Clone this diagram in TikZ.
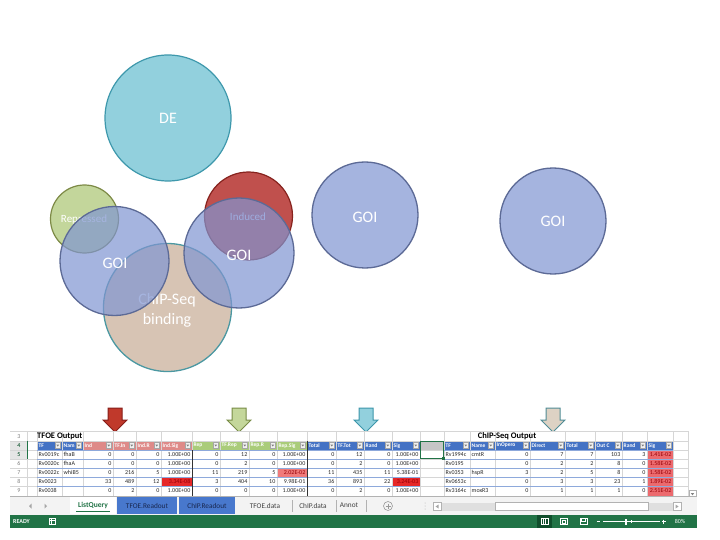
\documentclass[tikz,border=0pt]{standalone}
\usepackage{fontspec}
\setmainfont{Carlito}
\definecolor{deF}{RGB}{146,208,221}
\definecolor{deD}{RGB}{62,152,172}
\definecolor{repF}{RGB}{195,214,155}
\definecolor{repD}{RGB}{125,138,70}
\definecolor{indF}{RGB}{192,80,77}
\definecolor{indD}{RGB}{135,35,30}
\definecolor{chipF}{RGB}{215,196,180}
\definecolor{chipD}{RGB}{75,152,162}
\definecolor{goiF}{RGB}{128,149,210}
\definecolor{goiD}{RGB}{92,106,150}
\definecolor{hBlue}{RGB}{68,114,196}
\definecolor{hRed}{RGB}{222,138,136}
\definecolor{hGreen}{RGB}{170,204,122}
\definecolor{gridC}{RGB}{214,214,214}
\definecolor{rowLine}{RGB}{142,169,219}
\definecolor{datC}{RGB}{40,40,40}
\definecolor{sigT}{RGB}{150,0,6}
\definecolor{sigR}{RGB}{230,40,40}
\definecolor{sigL}{RGB}{240,122,122}
\definecolor{sigM}{RGB}{236,106,110}
\definecolor{xlG}{RGB}{33,115,70}
\definecolor{xlDG}{RGB}{16,78,44}
\definecolor{tabBg}{RGB}{243,243,243}
\definecolor{tabBlue}{RGB}{72,120,205}
\definecolor{tabTxt}{RGB}{25,40,80}
\definecolor{arRF}{RGB}{192,57,43}
\definecolor{arRD}{RGB}{135,30,25}
\definecolor{arGF}{RGB}{196,215,155}
\definecolor{arGD}{RGB}{120,140,70}
\definecolor{arCF}{RGB}{146,208,221}
\definecolor{arCD}{RGB}{60,150,170}
\definecolor{arTF}{RGB}{221,210,196}
\definecolor{arTD}{RGB}{80,140,150}
\newcommand\redtxt[1]{\textcolor{sigT}{#1}}
\tikzset{
  ctext/.style={text=white, font=\fontsize{16}{20}\selectfont, inner sep=0pt, align=center},
  stext/.style={text=white, font=\fontsize{11}{12}\selectfont, inner sep=0pt},
  goi/.style={fill=goiF, fill opacity=0.7, draw=goiD, line width=1.3pt},
  dat/.style={font=\fontsize{6}{7}\selectfont, text=datC, inner sep=0pt},
  hdr/.style={font=\fontsize{5.5}{6}\selectfont\bfseries, text=white, inner sep=0pt, anchor=west},
  rownum/.style={font=\fontsize{6}{7}\selectfont, text=gray, inner sep=0pt},
  ddbox/.style={fill=white!94!black, draw=gray!70, line width=0.3pt},
  tabtxt/.style={font=\fontsize{7.3}{8}\selectfont, inner sep=0pt},
  blockarrow/.style={line width=1pt},
  stat/.style={text=white, font=\fontsize{6}{7}\selectfont, inner sep=0pt}
}
\begin{document}
\begin{tikzpicture}[x=1pt,y=-1pt]
\useasboundingbox (0,0) rectangle (720,540);
\fill[white] (0,0) rectangle (720,540);

% ---------- circles ----------
\draw[fill=deF, draw=deD, line width=1.2pt] (168,118) circle[radius=63pt];
\node[ctext] (deT) at (168,118) {DE};
\draw[fill=repF, draw=repD, line width=1.2pt] (84.5,219) circle[radius=34pt];
\node[stext] (repT) at (84,220) {Repressed};
\draw[fill=indF, draw=indD, line width=1.2pt] (248.5,216) circle[radius=44pt];
\node[stext, text=white!90!blue] (indT) at (248,217) {Induced};
\draw[fill=chipF, draw=chipD, line width=1.3pt] (167.5,307.5) circle[radius=64pt];
\node[ctext] (chipT) at (167,310) {ChIP-Seq\\binding};
\draw[goi] (114.5,261) circle[radius=54.5pt];
\draw[goi] (239,253) circle[radius=55pt];
\draw[goi] (365,215) circle[radius=53pt];
\draw[goi] (553,221) circle[radius=53pt];
\node[ctext] (goi1) at (115,263) {GOI};
\node[ctext] (goi2) at (239,255) {GOI};
\node[ctext] (goi3) at (365,217) {GOI};
\node[ctext] (goi4) at (553,221) {GOI};

% ---------- block arrows ----------
\foreach \cx/\f/\d/\nm in {115/arRF/arRD/aR, 239/arGF/arGD/aG, 366/arCF/arCD/aC, 553/arTF/arTD/aT}
  \draw[blockarrow, fill=\f, draw=\d] (\cx-7,408) -- (\cx+7,408) -- (\cx+7,420) -- (\cx+12,420)
    -- (\cx,432) -- (\cx-12,420) -- (\cx-7,420) -- cycle;

% ---------- sheet grid ----------
\fill[white] (10,431) rectangle (697,496);
\fill[gray!20] (10,441) rectangle (27,459);
\foreach \x in {27,37,62,83,113,136,161,192,220,249,277,307,336,364,392,420,444,470,495,530,565,595,622,647,673,688}
  \draw[gridC, line width=0.4pt] (\x,431) -- (\x,496);
\foreach \y in {431,441,450,459,468,477,486}
  \draw[gridC, line width=0.4pt] (10,\y) -- (688,\y);
\draw[xlG, line width=1pt] (27,441) -- (27,459);

% row numbers
\foreach \rw in {3,...,9}
  \node[rownum] (rn\rw) at (19,{436.5+(\rw-3)*9}) {\rw};
\node[rownum, text=xlG] (rn4g) at (19,445.5) {4};
\node[rownum, text=xlG] (rn5g) at (19,454.5) {5};

% row 3 titles
\node[anchor=west, inner sep=0pt, font=\fontsize{8.5}{9}\selectfont\bfseries] (tfoeT) at (37,436.5) {TFOE Output};
\node[inner sep=0pt, font=\fontsize{8.5}{9}\selectfont\bfseries] (chipOT) at (507,436.5) {ChIP-Seq Output};

% coloured cells
\fill[sigR] (161.5,477.5) rectangle (191.5,485.5);
\fill[sigL] (277.5,468.5) rectangle (306.5,476.5);
\fill[sigR] (392.5,477.5) rectangle (419.5,485.5);
\fill[sigM] (647.5,450.5) rectangle (672.5,495.5);

% header row
\foreach \xl/\xr/\t/\c in {37/62/TF/hBlue, 62/83/Nam/hBlue, 83/113/Ind/hRed, 113/136/TF.In/hRed,
   136/161/Ind.R/hRed, 161/192/Ind.Sig/hRed, 192/220/Rep/hGreen, 220/249/TF.Rep/hGreen,
   249/277/Rep.R/hGreen, 277/307/Rep.Sig/hGreen, 307/336/Total/hBlue, 336/364/TF.Tot/hBlue,
   364/392/Rand/hBlue, 392/420/Sig/hBlue, 444/470/TF/hBlue, 470/495/Name/hBlue,
   495/530/InOpero/hBlue, 530/565/Direct/hBlue, 565/595/Total/hBlue, 595/622/Out C/hBlue,
   622/647/Rand/hBlue, 647/673/Sig/hBlue}
{
  \fill[\c] (\xl+0.5,441.5) rectangle (\xr-0.5,449.5);
  \node[hdr] (h\xl) at (\xl+1.5,445.6) {\t};
  \draw[ddbox] (\xr-7,442.5) rectangle (\xr-1.5,448.5);
  \fill[gray] (\xr-5.6,444.7) -- (\xr-2.9,444.7) -- (\xr-4.25,446.5) -- cycle;
}

% table row lines
\foreach \y in {450,459,468,477,486}
{
  \draw[rowLine, line width=0.5pt] (37,\y) -- (420,\y);
  \draw[rowLine, line width=0.5pt] (444,\y) -- (673,\y);
}
\draw[black!80, line width=0.8pt] (192,450) -- (192,496);
\draw[black!80, line width=0.8pt] (307,441) -- (307,496);

% selected cell
\fill[gray!45] (420.5,441.5) rectangle (443.5,449.5);
\draw[xlG, line width=1pt] (420.5,441.5) rectangle (443.5,458.5);
\fill[xlG] (442,457) rectangle (445,460);

% left table text cells
\foreach \rw/\a/\b in {5/Rv0019c/fhaB, 6/Rv0020c/fhaA, 7/Rv0022c/whiB5, 8/Rv0023/, 9/Rv0038/}
{
  \node[dat, anchor=west] (LT-\rw) at (38.5,{436.5+(\rw-3)*9}) {\a};
  \node[dat, anchor=west] (LN-\rw) at (63.5,{436.5+(\rw-3)*9}) {\b};
}
% left table numbers
\foreach \rw/\lst in {
  5/{0,0,0,1.00E+00,0,12,0,1.00E+00,0,12,0,1.00E+00},
  6/{0,0,0,1.00E+00,0,2,0,1.00E+00,0,2,0,1.00E+00},
  7/{0,216,5,1.00E+00,11,219,5,\redtxt{2.02E-02},11,435,11,5.38E-01},
  8/{33,489,12,\redtxt{3.34E-08},3,404,10,9.98E-01,36,893,22,\redtxt{3.24E-03}},
  9/{0,2,0,1.00E+00,0,0,0,1.00E+00,0,2,0,1.00E+00}}
{
  \pgfmathsetmacro\yc{436.5+(\rw-3)*9}
  \foreach \v [count=\i] in \lst {
    \pgfmathsetmacro\xr{{113,136,161,192,220,249,277,307,336,364,392,420}[\i-1]}
    \node[dat, anchor=east] (L-\rw-\i) at (\xr-1.5,\yc) {\v};
  }
}
% ChIP table text cells
\foreach \rw/\a/\b in {5/Rv1994c/cmtR, 6/Rv0195/, 7/Rv0353/hspR, 8/Rv0653c/, 9/Rv3164c/moxR3}
{
  \node[dat, anchor=west] (CT-\rw) at (445.5,{436.5+(\rw-3)*9}) {\a};
  \node[dat, anchor=west] (CN-\rw) at (471.5,{436.5+(\rw-3)*9}) {\b};
}
\foreach \rw/\lst in {
  5/{0,7,7,103,3,\redtxt{1.41E-02}},
  6/{0,2,2,8,0,\redtxt{1.58E-02}},
  7/{3,2,5,8,0,\redtxt{1.58E-02}},
  8/{0,3,3,23,1,\redtxt{1.89E-02}},
  9/{0,1,1,1,0,\redtxt{2.51E-02}}}
{
  \pgfmathsetmacro\yc{436.5+(\rw-3)*9}
  \foreach \v [count=\i] in \lst {
    \pgfmathsetmacro\xr{{530,565,595,622,647,673}[\i-1]}
    \node[dat, anchor=east] (C-\rw-\i) at (\xr-1.5,\yc) {\v};
  }
}

% vertical scrollbar
\fill[white] (688.5,431) rectangle (697,496);
\draw[gray!60, line width=0.4pt, fill=white] (689,490) rectangle (696,498);
\fill[gray] (690.8,493) -- (694.2,493) -- (692.5,495.3) -- cycle;

% ---------- tab bar ----------
\fill[tabBg] (10,496) rectangle (697,515);
\draw[gray!60, line width=0.4pt] (10,496) -- (697,496);
\fill[gray!70] (31.5,503.5) -- (31.5,508.5) -- (29,506) -- cycle;
\fill[gray!70] (44.5,503.5) -- (44.5,508.5) -- (47,506) -- cycle;
\fill[white] (70,496.5) rectangle (116,514);
\node[tabtxt, text=xlG, font=\fontsize{7.5}{8}\selectfont\bfseries] (tab1) at (93,505.5) {ListQuery};
\draw[xlG, line width=1.2pt] (76,511.5) -- (110,511.5);
\fill[tabBlue] (117,497) rectangle (177,514);
\node[tabtxt, text=tabTxt] (tab2) at (147,505.5) {TFOE.Readout};
\fill[tabBlue] (179,497) rectangle (235,514);
\node[tabtxt, text=tabTxt] (tab3) at (207,505.5) {ChIP.Readout};
\node[tabtxt, text=black!75] (tab4) at (265,505.5) {TFOE.data};
\node[tabtxt, text=black!75] (tab5) at (313,505.5) {ChIP.data};
\node[tabtxt, text=black!75] (tab6) at (349,505.5) {Annot};
\foreach \x in {292,336,366}
  \draw[gray!60, line width=0.4pt] (\x,500) -- (\x,512);
\draw[gray!80, line width=0.6pt] (388,506) circle[radius=4.5pt];
\draw[gray!80, line width=0.6pt] (385.5,506) -- (390.5,506) (388,503.5) -- (388,508.5);
\foreach \y in {503,506,509}
  \fill[gray!60] (425,\y) circle[radius=0.5pt];
\fill[gray!25] (441,502.5) rectangle (495,510.5);
\fill[gray!25] (648,502.5) rectangle (673,510.5);
\draw[gray!60, line width=0.4pt, fill=white] (433,502.5) rectangle (441,510.5);
\fill[gray!70] (438.5,504.5) -- (438.5,508.5) -- (435.5,506.5) -- cycle;
\draw[gray!60, line width=0.4pt, fill=white] (495,502.5) rectangle (648,510.5);
\draw[gray!60, line width=0.4pt, fill=white] (673,502.5) rectangle (681,510.5);
\fill[gray!70] (675.5,504.5) -- (675.5,508.5) -- (678.5,506.5) -- cycle;

% ---------- status bar ----------
\fill[xlG] (10,515) rectangle (697,528);
\node[stat, anchor=west, font=\fontsize{6}{7}\selectfont\bfseries] (ready) at (13,521.5) {READY};
\draw[white, line width=0.5pt] (49,518.5) rectangle (55,524.5) (49,520.5) -- (55,520.5) (51.5,518.5) -- (51.5,524.5);
\fill[xlDG] (537,515) rectangle (552,528);
\draw[white, line width=0.5pt] (541,518.5) rectangle (548,524.5)
   (543.3,518.5) -- (543.3,524.5) (545.6,518.5) -- (545.6,524.5);
\draw[white, line width=0.5pt] (560,518.5) rectangle (567,524.5) (561.8,520) rectangle (565.2,523);
\draw[white, line width=0.5pt] (580,518.5) rectangle (587,524.5) (581.5,518.5) -- (581.5,521.5) -- (585.5,521.5) -- (585.5,518.5);
\draw[white, line width=0.6pt] (596.5,521.5) -- (599.5,521.5);
\draw[white, line width=0.4pt] (603,521.5) -- (660,521.5);
\fill[white] (625,518.5) rectangle (627,524.5);
\draw[white, line width=0.4pt] (631,520) -- (631,523);
\draw[white, line width=0.6pt] (661.5,521.5) -- (665.5,521.5) (663.5,519.5) -- (663.5,523.5);
\node[stat] (zoomP) at (680,521.5) {80\%};
\end{tikzpicture}
\end{document}
